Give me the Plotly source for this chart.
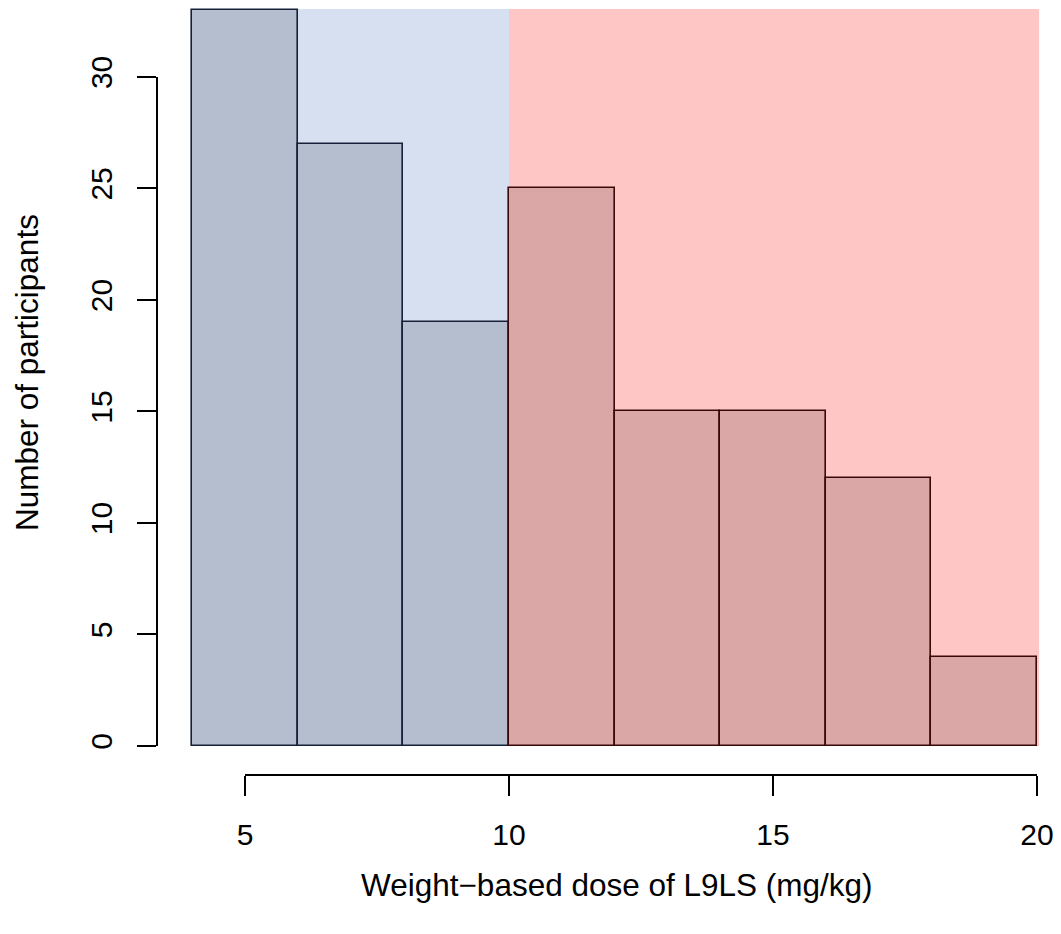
import plotly.graph_objects as go

# Data
bin_edges = [4, 6, 8, 10, 12, 14, 16, 18, 20]
counts = [33, 27, 19, 25, 15, 15, 12, 4]
threshold = 10
x_ticks = [5, 10, 15, 20]
y_ticks = [0, 5, 10, 15, 20, 25, 30]
x_title = "Weight\u2212based dose of L9LS (mg/kg)"
y_title = "Number of participants"

# page body has an 8px margin; keep figure inside the viewport
OFF = 8
W, H = 1061 - 2 * OFF, 934 - 2 * OFF
FONT = "Liberation Sans, Arial, Helvetica, sans-serif"

centers = [(a + b) / 2 for a, b in zip(bin_edges[:-1], bin_edges[1:])]
widths = [b - a for a, b in zip(bin_edges[:-1], bin_edges[1:])]
low = [c < threshold for c in centers]
fill = ["#B5BECF" if l else "#DBA6A6" for l in low]
edge = ["#16203A" if l else "#3A0808" for l in low]

fig = go.Figure()
fig.add_trace(go.Bar(
    x=centers, y=counts, width=widths,
    marker=dict(color=fill, line=dict(color=edge, width=1.6)),
    xaxis="x", yaxis="y", showlegend=False, hoverinfo="skip",
))
# invisible trace so the detached axes are drawn
fig.add_trace(go.Scatter(x=[x_ticks[0]], y=[y_ticks[0]], mode="markers",
                         marker=dict(opacity=0), xaxis="x2", yaxis="y2",
                         showlegend=False, hoverinfo="skip"))

ytop = max(counts)
fig.add_shape(type="rect", xref="x", yref="y", x0=bin_edges[0], x1=threshold,
              y0=0, y1=ytop + 0.05, fillcolor="#D7E0F1", line=dict(width=0), layer="below")
fig.add_shape(type="rect", xref="x", yref="y", x0=threshold, x1=bin_edges[-1] + 0.04,
              y0=0, y1=ytop + 0.05, fillcolor="#FFC6C6", line=dict(width=0), layer="below")

# pixel mapping (page px of reference -> figure px)
px_per_x = 52.8
px_x4 = 192.2 - OFF
py_y0 = 746.0 - OFF
px_per_y = (746.0 - 10.0) / ytop

xr = [bin_edges[0] - px_x4 / px_per_x, bin_edges[0] + (W - px_x4) / px_per_x]
yr = [-(H - py_y0) / px_per_y, py_y0 / px_per_y]

def xpaper(v):
    return (px_x4 + (v - bin_edges[0]) * px_per_x) / W

def ypaper(v):
    return 1 - (py_y0 - v * px_per_y) / H

fig.update_layout(
    width=W, height=H,
    margin=dict(l=0, r=0, t=0, b=0, pad=0, autoexpand=False),
    paper_bgcolor="white", plot_bgcolor="rgba(0,0,0,0)",
    font=dict(family=FONT, size=30, color="black"),
    bargap=0,
    xaxis=dict(domain=[0, 1], range=xr, visible=False, fixedrange=True, automargin=False),
    yaxis=dict(domain=[0, 1], range=yr, visible=False, fixedrange=True, automargin=False),
    xaxis2=dict(domain=[xpaper(x_ticks[0]), xpaper(x_ticks[-1])],
                range=[x_ticks[0], x_ticks[-1]], anchor="free", position=ypaper(0) - 29 / H,
                tickvals=x_ticks, ticks="outside", ticklen=20, tickwidth=1.5,
                tickcolor="black", showline=True, linecolor="black", linewidth=1.5,
                showgrid=False, zeroline=False, tickfont=dict(size=30),
                ticklabelstandoff=13, ticklabeloverflow="allow",
                fixedrange=True, automargin=False),
    yaxis2=dict(domain=[ypaper(y_ticks[0]), ypaper(y_ticks[-1])],
                range=[y_ticks[0], y_ticks[-1]], anchor="free", position=(157 - OFF) / W,
                tickvals=y_ticks, ticks="outside", ticklen=19, tickwidth=1.5,
                tickcolor="black", showline=True, linecolor="black", linewidth=1.5,
                showgrid=False, zeroline=False, tickfont=dict(size=30), tickangle=-90,
                ticklabelstandoff=13, ticklabeloverflow="allow",
                fixedrange=True, automargin=False),
    annotations=[
        dict(text=x_title, xref="paper", yref="paper", x=(617 - OFF) / W, y=1 - (885 - OFF) / H,
             showarrow=False, font=dict(size=31.5), xanchor="center", yanchor="middle"),
        dict(text=y_title, xref="paper", yref="paper", x=(27 - OFF) / W, y=1 - (373 - OFF) / H,
             showarrow=False, font=dict(size=31.5), textangle=-90,
             xanchor="center", yanchor="middle"),
    ],
)

fig.write_html("out.html")
